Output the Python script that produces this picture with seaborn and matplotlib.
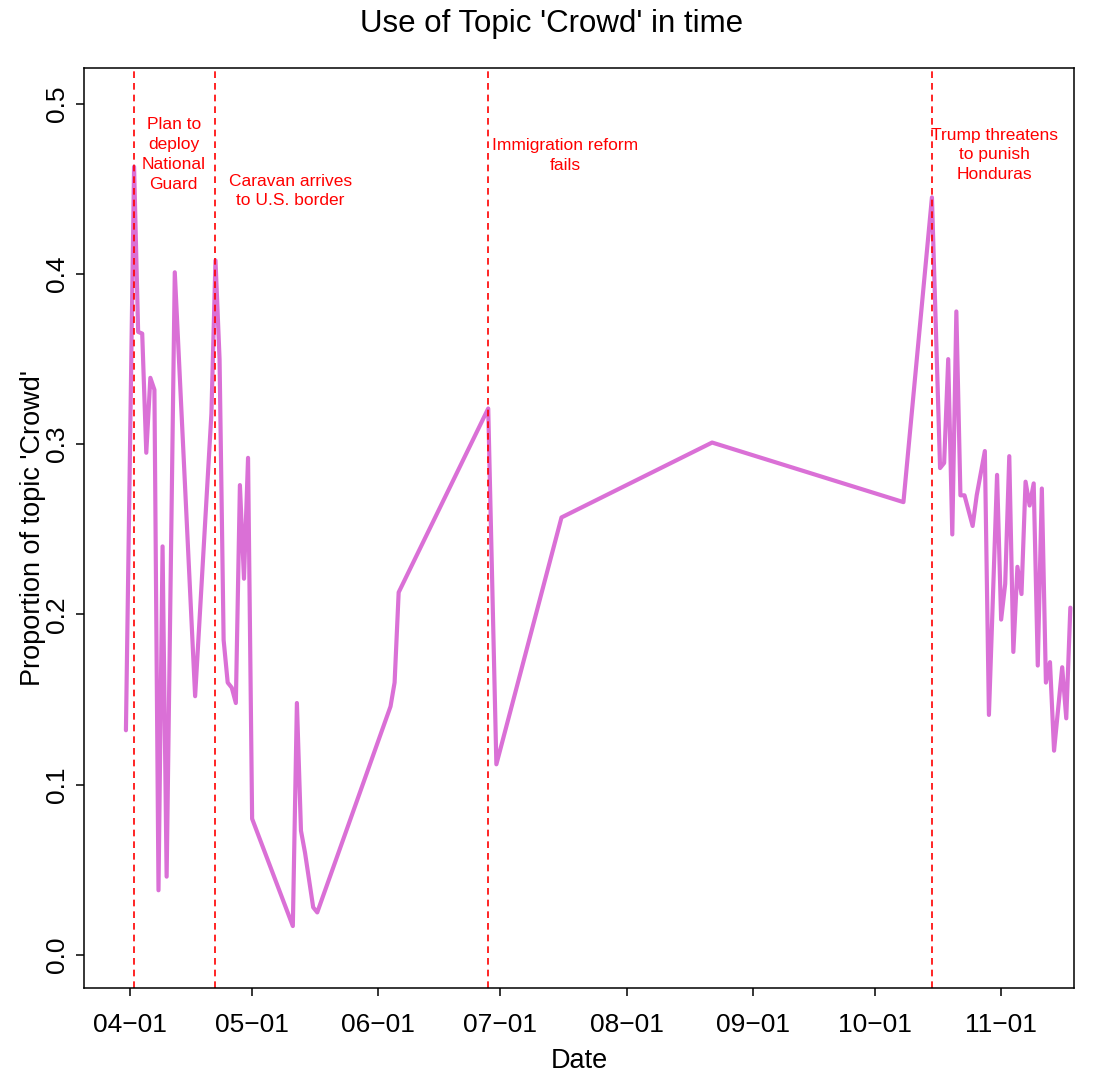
import matplotlib
matplotlib.use("Agg")
import matplotlib.pyplot as plt
import matplotlib.dates as mdates
import seaborn as sns
import pandas as pd

# ---- data -------------------------------------------------------------
dates = [
    "2018-03-31", "2018-04-02", "2018-04-03", "2018-04-04", "2018-04-05",
    "2018-04-06", "2018-04-07", "2018-04-08", "2018-04-09", "2018-04-10",
    "2018-04-12", "2018-04-17", "2018-04-21", "2018-04-22", "2018-04-23",
    "2018-04-24", "2018-04-25", "2018-04-26", "2018-04-27", "2018-04-28",
    "2018-04-29", "2018-04-30", "2018-05-01", "2018-05-11", "2018-05-12",
    "2018-05-13", "2018-05-14", "2018-05-16", "2018-05-17", "2018-06-04",
    "2018-06-05", "2018-06-06", "2018-06-28", "2018-06-30", "2018-07-16",
    "2018-08-22", "2018-10-08", "2018-10-15", "2018-10-17", "2018-10-18",
    "2018-10-19", "2018-10-20", "2018-10-21", "2018-10-22", "2018-10-23",
    "2018-10-25", "2018-10-26", "2018-10-28", "2018-10-29", "2018-10-31",
    "2018-11-01", "2018-11-02", "2018-11-03", "2018-11-04", "2018-11-05",
    "2018-11-06", "2018-11-07", "2018-11-08", "2018-11-09", "2018-11-10",
    "2018-11-11", "2018-11-12", "2018-11-13", "2018-11-14", "2018-11-16",
    "2018-11-17", "2018-11-18",
]
proportion = [
    0.132, 0.463, 0.366, 0.365, 0.295,
    0.339, 0.332, 0.038, 0.240, 0.046,
    0.401, 0.152, 0.318, 0.408, 0.350,
    0.185, 0.160, 0.157, 0.148, 0.276,
    0.221, 0.292, 0.080, 0.017, 0.148,
    0.073, 0.060, 0.028, 0.025, 0.146,
    0.160, 0.213, 0.321, 0.112, 0.257,
    0.301, 0.266, 0.445, 0.286, 0.289,
    0.350, 0.247, 0.378, 0.270, 0.270,
    0.252, 0.270, 0.296, 0.141, 0.282,
    0.197, 0.218, 0.293, 0.178, 0.228,
    0.212, 0.278, 0.264, 0.277, 0.170,
    0.274, 0.160, 0.172, 0.120, 0.169,
    0.139, 0.204,
]

event_dates = ["2018-04-02", "2018-04-22", "2018-06-28", "2018-10-15"]
event_labels = [
    "Plan to\ndeploy\nNational\nGuard",
    "Caravan arrives\nto U.S. border",
    "Immigration reform\nfails",
    "Trump threatens\nto punish\nHonduras",
]
label_dates = ["2018-04-11 18:00", "2018-05-10 08:00", "2018-07-16 22:00", "2018-10-30 08:00"]
label_y = [0.492, 0.459, 0.480, 0.486]

month_ticks = ["2018-04-01", "2018-05-01", "2018-06-01", "2018-07-01",
               "2018-08-01", "2018-09-01", "2018-10-01", "2018-11-01"]

# ---- plot -------------------------------------------------------------
sns.set_style("ticks")
plt.rcParams["font.family"] = ["Liberation Sans", "DejaVu Sans"]
plt.rcParams["text.color"] = "black"
plt.rcParams["axes.labelcolor"] = "black"

df = pd.DataFrame({"Date": pd.to_datetime(dates), "Proportion": proportion})

fig = plt.figure(figsize=(11.04, 10.77), dpi=100)
ax = fig.add_axes([84 / 1104, 1 - 988 / 1077, (1074 - 84) / 1104, (988 - 68) / 1077])

sns.lineplot(data=df, x="Date", y="Proportion", ax=ax, color="orchid",
             linewidth=3.0, estimator=None, sort=False)

for d in event_dates:
    ax.axvline(pd.Timestamp(d), color="red", linestyle=(0, (4, 3)), linewidth=1.2)

for txt, d, yv in zip(event_labels, label_dates, label_y):
    ax.text(pd.Timestamp(d), yv, txt, color="red", ha="center", va="top",
            fontsize=12.5, linespacing=1.4)

x0 = pd.Timestamp("2018-04-01")
ax.set_xlim(x0 + pd.Timedelta(days=-11.3), x0 + pd.Timedelta(days=231.9))
ax.set_ylim(-0.0194, 0.521)

ax.set_xticks(pd.to_datetime(month_ticks))
ax.xaxis.set_major_formatter(mdates.DateFormatter("%m\u2212%d"))
ax.set_yticks([0.0, 0.1, 0.2, 0.3, 0.4, 0.5])
ax.set_yticklabels(["0.0", "0.1", "0.2", "0.3", "0.4", "0.5"], rotation=90, va="center")

ax.tick_params(axis="both", direction="out", length=6, width=1.1, labelsize=19,
               colors="black", labelcolor="black")
ax.tick_params(axis="x", pad=12)
ax.tick_params(axis="y", pad=5)

for s in ax.spines.values():
    s.set_visible(True)
    s.set_color("black")
    s.set_linewidth(1.1)

ax.set_xlabel("Date", fontsize=19.5, labelpad=8, color="black")
ax.set_ylabel("Proportion of topic 'Crowd'", fontsize=19.5, labelpad=-1, color="black")
fig.suptitle("Use of Topic 'Crowd' in time", fontsize=22.5, y=1 - 24 / 1077,
             va="center", color="black")

fig.savefig("out.png", dpi=100, facecolor="white")
